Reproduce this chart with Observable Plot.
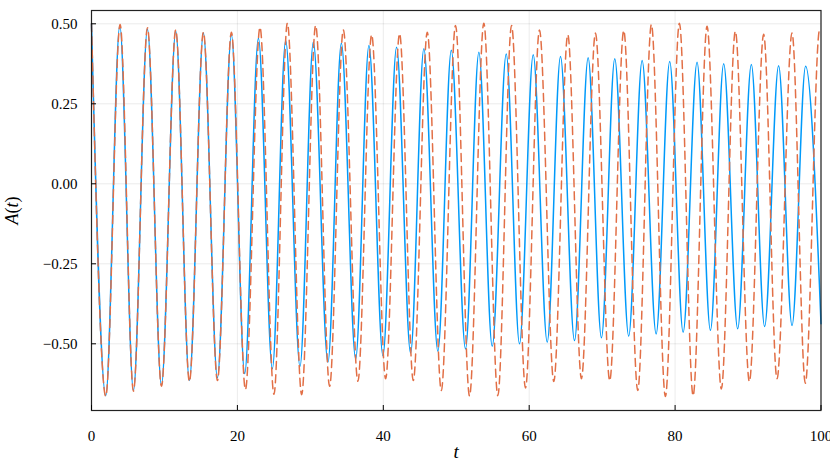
<!DOCTYPE html>
<html><head><meta charset="utf-8">
<script src="https://cdn.jsdelivr.net/npm/d3@7"></script>
<script src="https://cdn.jsdelivr.net/npm/@observablehq/plot@0.6"></script>
<style>
html,body{margin:0;padding:0;background:#fff;}
</style></head><body><div id="chart"></div>
<script>
// Series 1 (blue, solid): successive extrema (peak/trough) times and values
const blueT = [0, 1.96, 3.88, 5.75, 7.67, 9.59, 11.55, 13.42, 15.34, 17.26, 19.18, 21.00, 22.88, 24.79, 26.62, 28.58, 30.41, 32.41, 34.25, 36.21, 38.03, 39.95, 41.82, 43.74, 45.56, 47.48, 49.32, 51.27, 53.10, 54.93, 56.85, 58.67, 60.55, 62.47, 64.29, 66.21, 68.08, 69.90, 71.73, 73.64, 75.48, 77.40, 79.26, 81.10, 83.01, 84.84, 86.66, 88.58, 90.45, 92.27, 94.19, 96.03, 97.89, 100];
const blueA = [0.500, -0.662, 0.495, -0.646, 0.484, -0.630, 0.477, -0.615, 0.471, -0.606, 0.466, -0.593, 0.455, -0.578, 0.448, -0.571, 0.443, -0.558, 0.439, -0.547, 0.432, -0.537, 0.427, -0.529, 0.422, -0.523, 0.417, -0.516, 0.411, -0.508, 0.406, -0.500, 0.403, -0.495, 0.398, -0.490, 0.394, -0.481, 0.391, -0.476, 0.385, -0.469, 0.382, -0.464, 0.380, -0.458, 0.375, -0.453, 0.373, -0.446, 0.369, -0.443, 0.367, -0.437];
// Series 2 (orange, dashed)
const orangeT = [0, 1.96, 3.92, 5.75, 7.67, 9.59, 11.55, 13.42, 15.34, 17.26, 19.18, 21.10, 23.10, 25.01, 26.85, 28.81, 30.73, 32.64, 34.52, 36.52, 38.40, 40.32, 42.23, 44.11, 46.03, 47.95, 49.90, 51.82, 53.78, 55.70, 57.58, 59.49, 61.41, 63.37, 65.29, 67.16, 69.08, 71.04, 72.96, 74.88, 76.75, 78.67, 80.59, 82.47, 84.38, 86.34, 88.26, 90.18, 92.14, 93.97, 96.03, 97.85, 99.81, 100];
const orangeA = [0.500, -0.664, 0.498, -0.648, 0.488, -0.633, 0.481, -0.618, 0.474, -0.615, 0.474, -0.643, 0.489, -0.658, 0.502, -0.659, 0.495, -0.633, 0.481, -0.617, 0.466, -0.609, 0.469, -0.615, 0.474, -0.646, 0.495, -0.663, 0.502, -0.662, 0.495, -0.638, 0.481, -0.618, 0.466, -0.609, 0.471, -0.615, 0.479, -0.646, 0.498, -0.665, 0.502, -0.662, 0.492, -0.641, 0.477, -0.618, 0.467, -0.609, 0.471, -0.623, 0.481, 0.480];

const xTicks = [0, 20, 40, 60, 80, 100];
const yTicks = [-0.5, -0.25, 0, 0.25, 0.5];

const blue = blueT.map((t, i) => ({t, A: blueA[i]}));
const orange = orangeT.map((t, i) => ({t, A: orangeA[i]}));

const SERIF = "'Liberation Serif', 'DejaVu Serif', serif";

const chart = Plot.plot({
  width: 830,
  height: 467,
  marginLeft: 91,
  marginRight: 9.5,
  marginTop: 10,
  marginBottom: 57,
  style: {fontFamily: SERIF, fontSize: "15px", background: "#fff", color: "#000", overflow: "visible"},
  x: {domain: [0, 100]},
  y: {domain: [-0.7084, 0.5416]},
  marks: [
    Plot.gridX(xTicks, {stroke: "#000", strokeOpacity: 0.08}),
    Plot.gridY(yTicks, {stroke: "#000", strokeOpacity: 0.08}),
    Plot.line(blue, {x: "t", y: "A", stroke: "#009AFA", strokeWidth: 1.5, curve: "monotone-x"}),
    Plot.line(orange, {x: "t", y: "A", stroke: "#E26F46", strokeWidth: 1.5, strokeDasharray: "8,5", curve: "monotone-x"}),
    Plot.frame({stroke: "#222", strokeWidth: 1.2}),
    Plot.axisX(xTicks, {tickSize: -5, tickPadding: 25, tickFormat: d => String(d), label: "t", labelAnchor: "center", labelOffset: 47, labelArrow: "none", fontSize: 15}),
    Plot.axisY(yTicks, {tickSize: -5, tickPadding: 19, tickFormat: d3.format(".2f"), label: "A(t)", labelAnchor: "center", labelOffset: 86, labelArrow: "none", fontSize: 15})
  ]
});
document.getElementById("chart").appendChild(chart);

// force serif font on every text element
chart.querySelectorAll("text").forEach(el => {
  el.style.fontFamily = SERIF;
});
chart.querySelectorAll('g[aria-label="x-axis tick label"] text, g[aria-label="y-axis tick label"] text').forEach(el => {
  el.style.fontSize = "15px";
});

// LaTeX-like label styling: italic variables, upright parentheses
const xl = chart.querySelector('g[aria-label="x-axis label"] text');
if (xl) { xl.style.fontStyle = "italic"; xl.style.fontSize = "19px"; }
const yl = chart.querySelector('g[aria-label="y-axis label"] text');
if (yl) {
  yl.style.fontSize = "18px";
  yl.textContent = "";
  [["A", "italic"], ["(", "normal"], ["t", "italic"], [")", "normal"]].forEach(([s, st]) => {
    const ts = document.createElementNS("http://www.w3.org/2000/svg", "tspan");
    ts.setAttribute("font-style", st);
    ts.textContent = s;
    yl.appendChild(ts);
  });
}
</script></body></html>
